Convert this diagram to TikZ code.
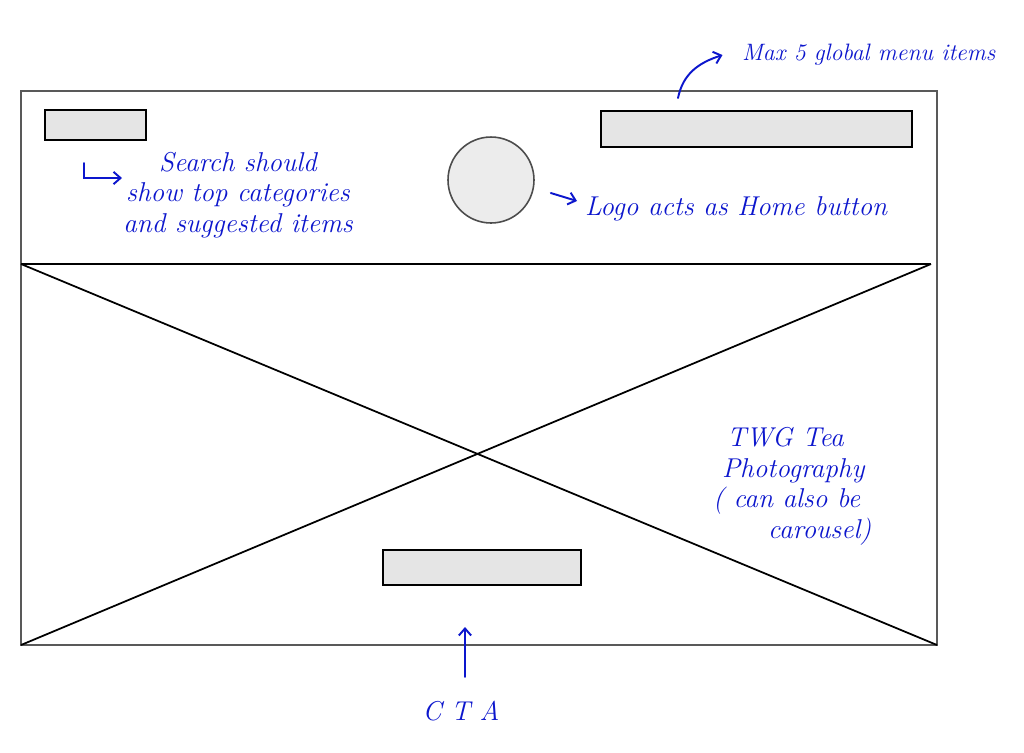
\documentclass[tikz,border=0pt]{standalone}
\usetikzlibrary{arrows.meta}
\definecolor{pen}{RGB}{12,22,205}
\begin{document}
\begin{tikzpicture}[x=0.02cm,y=-0.02cm,
  box/.style={draw,fill=gray!20,line width=0.9pt,inner sep=0pt},
  note/.style={text=pen,font=\itshape\fontsize{15.5}{17.5}\selectfont,inner sep=1pt},
  pencil/.style={pen,line width=1.1pt,line cap=round,-{Straight Barb[length=4pt,width=7pt]}}]
\useasboundingbox (0,0) rectangle (1024,752);
\fill[white] (0,0) rectangle (1024,752);
% page frame and hero image
\draw[gray!70!black,line width=0.85pt] (21,91) rectangle (937,645);
\draw[line width=1pt] (21,264)--(931,264);
\draw[line width=1pt] (21,264)--(937,645);
\draw[line width=1pt] (931,264)--(21,645);
% header
\node[box,minimum width=2.02cm,minimum height=0.6cm] (search) at (95.5,125) {};
\node[box,minimum width=6.22cm,minimum height=0.72cm] (menu) at (756.5,129) {};
\node[box,circle,fill=gray!15,draw=gray!60!black,minimum size=1.72cm] (logo) at (491,180) {};
\node[box,minimum width=3.96cm,minimum height=0.7cm] (cta) at (482,567.5) {};
% notes
\node[note,anchor=west,font=\itshape\fontsize{13.5}{16}\selectfont] (menunote) at (740,55) {Max 5 global menu items};
\node[note,align=center] (searchnote) at (238,195) {Search should\\show top categories\\and suggested items};
\node[note,anchor=west] (logonote) at (583,209) {Logo acts as Home button};
\node[note,anchor=north west,align=left] (heronote) at (711,425)
  {\hspace*{0.28cm}TWG Tea\\\hspace*{0.18cm}Photography\\( can also be\\\hspace*{1.1cm}carousel)};
\node[note] (ctanote) at (461,711) {C T A};
\coordinate (menutail) at (678,98);
\coordinate (searchtail) at (84,163);
\coordinate (searchtip) at (122,178);
\coordinate (ctatip) at (465,627);
\draw[pencil] (menutail) .. controls (683,74) and (698,63) .. ([xshift=-0.35cm]menunote.west);
\draw[pencil] (searchtail) |- (searchtip);
\draw[pencil] ([shift={(16,13)}]logo.east) -- ([shift={(-6,-8)}]logonote.west);
\draw[pencil] ([shift={(4,-22)}]ctanote.north) -- (ctatip);
\end{tikzpicture}
\end{document}
